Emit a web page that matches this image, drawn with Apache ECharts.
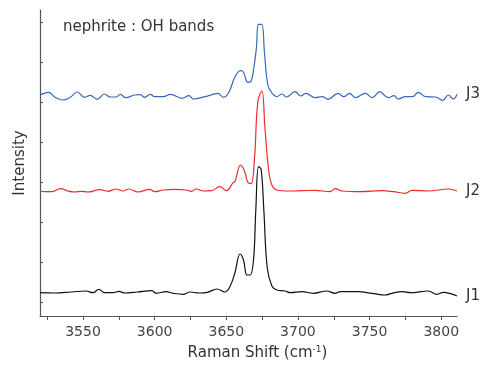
<!DOCTYPE html>
<html>
<head>
<meta charset="utf-8">
<script src="https://cdn.jsdelivr.net/npm/echarts@6/dist/echarts.min.js"></script>
<style>
  html, body { margin: 0; padding: 0; background: #fff; }
  #chart { width: 500px; height: 366px; }
</style>
</head>
<body>
<div id="chart"></div>
<script>
// Raman shift (cm-1) and stacked intensity (arbitrary units, offsets included)
var j1Shift = [3520, 3530, 3542, 3552, 3557, 3561, 3565, 3571, 3575, 3579, 3588, 3598, 3601, 3608, 3613, 3620, 3624.5, 3631.5, 3637, 3643.5, 3649, 3652.5, 3656, 3659.6, 3662, 3664.4, 3666.6, 3669, 3670.6, 3672.5, 3674.3, 3676.2, 3678.5, 3681.8, 3685.3, 3691, 3694.6, 3702.7, 3710.8, 3720, 3726, 3729.5, 3742, 3751.6, 3761, 3765.6, 3772.6, 3778.4, 3791, 3797, 3801.6, 3811]
var j1Intensity = [23.3, 23, 24, 25, 23.3, 26.7, 23.3, 23.3, 24.7, 23, 24, 25.3, 22.7, 24.3, 22.7, 21.7, 24, 23, 23.7, 27, 24, 29.3, 43, 62, 56, 41, 41, 56, 106, 149.3, 146.7, 106, 49.3, 30, 26, 25, 23.3, 24.3, 22.7, 25, 22.7, 24.3, 24.3, 22.7, 21, 22.7, 24.3, 23.3, 25, 21.7, 23.7, 20]

var j2Shift = [3520, 3523, 3528, 3534.4, 3539.5, 3544, 3549, 3553.5, 3561.7, 3567.5, 3573, 3578, 3582, 3588.4, 3596.6, 3600, 3606, 3614, 3622, 3625.7, 3629, 3634, 3639.6, 3645.5, 3650, 3654.8, 3656, 3660, 3662.7, 3665, 3667.3, 3669.7, 3672, 3674.8, 3677, 3679.4, 3681.8, 3685.3, 3693.4, 3702.7, 3712, 3722.5, 3726, 3730.7, 3743.5, 3758.6, 3766.7, 3775, 3779.6, 3791, 3805, 3811]
var j2Intensity = [125.3, 124.3, 124.3, 127.3, 125, 124, 124.7, 124, 126.3, 124.7, 127, 125, 127, 124, 126.7, 124.3, 126, 126.7, 126, 124.7, 127, 125, 125.3, 129.3, 125.3, 133.3, 134.3, 151, 145, 133.7, 132.3, 157.7, 214.3, 225, 187.7, 147.7, 131, 126, 125, 125.3, 125.7, 124.3, 127.3, 125, 124.3, 125.3, 124.3, 122.7, 125.7, 125, 127, 125]

var j3Shift = [3520, 3526, 3530, 3536, 3541, 3546, 3551, 3555, 3560, 3565, 3569, 3573, 3576, 3580, 3586, 3590, 3593, 3597, 3600, 3606, 3611, 3619, 3624, 3627, 3635, 3640, 3644, 3648, 3652, 3656, 3660, 3662, 3665, 3667, 3669, 3671, 3672.5, 3674.8, 3676.6, 3679, 3682, 3685, 3689, 3692, 3698, 3702, 3705.5, 3712, 3717, 3721, 3728, 3732, 3736, 3740, 3747, 3752, 3757, 3763, 3767, 3770, 3775, 3780, 3784, 3789, 3796, 3801, 3805, 3808.5, 3811]
var j3Intensity = [221, 223.7, 219.3, 216, 218.7, 224, 218.7, 220.7, 216.7, 222, 219, 219, 221.7, 218.3, 221, 221.3, 218.7, 221.7, 219.3, 219.3, 221.7, 217.7, 220.3, 217, 219.3, 221.3, 222.7, 218.7, 224.3, 239, 245.3, 243.7, 233.7, 234.3, 246, 268, 291.7, 291.7, 264.3, 231, 222.7, 219.3, 222, 219, 224.3, 220, 222.7, 218.3, 219.3, 216.7, 222.7, 219.3, 222.7, 218.3, 222.7, 218.3, 224.3, 218.3, 220.3, 217, 219.3, 219.3, 223.7, 219.3, 219, 215.7, 221, 217, 221.7]

var xTicks = [3525, 3550, 3575, 3600, 3625, 3650, 3675, 3700, 3725, 3750, 3775, 3800]
var xLabels = [3550, 3600, 3650, 3700, 3750, 3800]
var yTicks = [14, 54, 94, 134, 174, 214, 254, 294]

function pairs(xs, ys) {
  var out = []
  for (var i = 0; i < xs.length; i++) {
    out.push([xs[i], ys[i]])
  }
  return out
}

var font = 'DejaVu Sans'

function spectrum(name, xs, ys, color) {
  return {
    name: name,
    type: 'line',
    data: pairs(xs, ys),
    showSymbol: false,
    smooth: 0.4,
    lineStyle: { color: color, width: 1.2 },
    endLabel: {
      show: true,
      formatter: name,
      distance: 9,
      fontFamily: font,
      fontSize: 15,
      color: '#333'
    }
  }
}

var chart = echarts.init(document.getElementById('chart'))
chart.setOption({
  animation: false,
  title: {
    text: 'nephrite : OH bands',
    left: 63,
    top: 20,
    padding: 0,
    textStyle: { fontFamily: font, fontSize: 15, fontWeight: 'normal', color: '#333' }
  },
  grid: { left: 40, right: 43, top: 10, bottom: 50 },
  xAxis: {
    type: 'value',
    min: 3520,
    max: 3811,
    name: '{n|Raman Shift (cm}{s|-1}{n|)}',
    nameLocation: 'middle',
    nameGap: 29,
    nameTextStyle: {
      padding: [0, 0, 0, 18],
      rich: {
        n: { fontFamily: font, fontSize: 15, color: '#333' },
        s: { fontFamily: font, fontSize: 9, color: '#333', verticalAlign: 'top', padding: [0, 0, 8, 0] }
      }
    },
    axisLine: { lineStyle: { color: '#555', width: 1.2 } },
    axisTick: { customValues: xTicks, length: 4, lineStyle: { color: '#555' } },
    axisLabel: {
      customValues: xLabels,
      margin: 9,
      fontFamily: font,
      fontSize: 14,
      color: '#444',
      formatter: function (v) { return String(v) }
    },
    splitLine: { show: false }
  },
  yAxis: {
    type: 'value',
    min: 0,
    max: 306,
    name: 'Intensity',
    nameLocation: 'middle',
    nameGap: 12,
    nameTextStyle: { fontFamily: font, fontSize: 15, color: '#333' },
    axisLine: { show: true, lineStyle: { color: '#555', width: 1.2 } },
    axisTick: { show: true, inside: true, customValues: yTicks, length: 3, lineStyle: { color: '#555' } },
    axisLabel: { show: false },
    splitLine: { show: false }
  },
  series: [
    spectrum('J1', j1Shift, j1Intensity, '#111111'),
    spectrum('J2', j2Shift, j2Intensity, '#ee2b2b'),
    spectrum('J3', j3Shift, j3Intensity, '#3b67b9')
  ]
})
</script>
</body>
</html>
